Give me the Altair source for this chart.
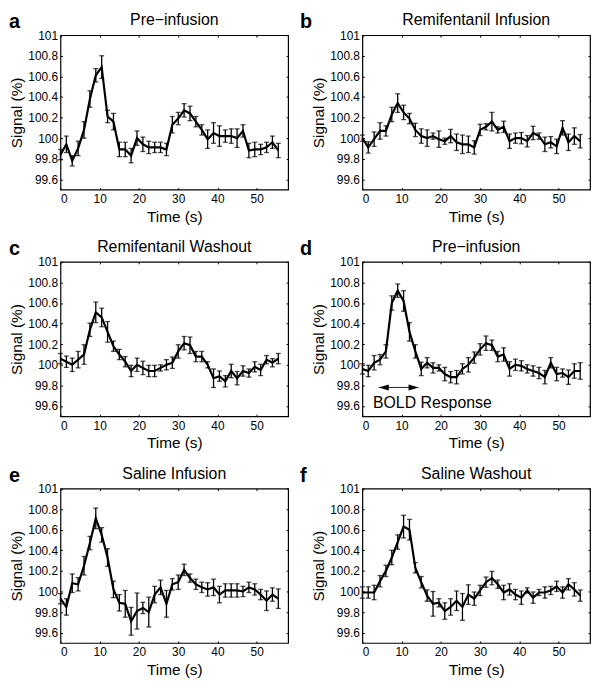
import altair as alt
import pandas as pd

FONT = "Liberation Sans"

time_s = [0, 1.5, 3, 4.5, 6, 7.5, 9, 10.5, 12, 13.5, 15, 16.5, 18, 19.5, 21, 22.5,
          24, 25.5, 27, 28.5, 30, 31.5, 33, 34.5, 36, 37.5, 39, 40.5, 42, 43.5,
          45, 46.5, 48, 49.5, 51, 52.5, 54, 55.5]

x_ticks = [0, 10, 20, 30, 40, 50]
y_ticks = [99.6, 99.8, 100, 100.2, 100.4, 100.6, 100.8, 101]
x_domain = [0, 58]
y_domain = [99.5, 101]

titles = ["Pre\u2212infusion", "Remifentanil Infusion", "Remifentanil Washout",
          "Pre\u2212infusion", "Saline Infusion", "Saline Washout"]
letters = ["a", "b", "c", "d", "e", "f"]

sig_a = [99.84, 99.94, 99.78, 99.90, 100.08, 100.38, 100.61, 100.69, 100.21, 100.16,
         99.89, 99.89, 99.83, 100.00, 99.94, 99.91, 99.91, 99.91, 99.89, 100.13,
         100.19, 100.27, 100.24, 100.16, 100.08, 99.99, 100.05, 100.02, 100.02, 100.02,
         100.00, 100.07, 99.88, 99.89, 99.89, 99.91, 99.96, 99.88]
err_a = [0.05, 0.08, 0.05, 0.07, 0.08, 0.08, 0.065, 0.11, 0.06, 0.08,
         0.07, 0.07, 0.07, 0.07, 0.07, 0.06, 0.05, 0.05, 0.06, 0.08,
         0.06, 0.065, 0.07, 0.05, 0.05, 0.09, 0.1, 0.1, 0.06, 0.07,
         0.09, 0.06, 0.07, 0.07, 0.05, 0.05, 0.06, 0.07]

sig_b = [100.00, 99.91, 99.99, 100.07, 100.07, 100.23, 100.34, 100.25, 100.19, 100.08,
         100.02, 100.00, 100.02, 99.99, 99.97, 100.02, 99.96, 99.94, 99.94, 99.91,
         100.08, 100.11, 100.16, 100.08, 100.11, 99.97, 100.00, 100.00, 99.97, 100.05,
         100.02, 99.94, 99.96, 99.92, 100.10, 99.96, 100.02, 99.97]
err_b = [0.03, 0.055, 0.07, 0.08, 0.05, 0.07, 0.09, 0.07, 0.05, 0.065,
         0.07, 0.08, 0.03, 0.08, 0.03, 0.065, 0.08, 0.09, 0.08, 0.065,
         0.055, 0.03, 0.09, 0.03, 0.055, 0.07, 0.05, 0.055, 0.055, 0.065,
         0.03, 0.07, 0.055, 0.07, 0.07, 0.08, 0.08, 0.065]

sig_c = [100.06, 100.03, 100.00, 100.05, 100.10, 100.34, 100.51, 100.46, 100.32, 100.18,
         100.10, 100.03, 99.94, 100.00, 99.97, 99.94, 99.94, 99.97, 100.00, 100.02,
         100.13, 100.21, 100.19, 100.08, 100.08, 100.00, 99.87, 99.89, 99.84, 99.94,
         99.87, 99.94, 99.92, 99.98, 99.95, 100.05, 100.02, 100.06]
err_c = [0.05, 0.055, 0.065, 0.08, 0.095, 0.065, 0.1, 0.09, 0.1, 0.05,
         0.05, 0.05, 0.055, 0.065, 0.065, 0.055, 0.055, 0.03, 0.05, 0.055,
         0.065, 0.065, 0.08, 0.05, 0.05, 0.03, 0.09, 0.05, 0.055, 0.065,
         0.065, 0.05, 0.04, 0.05, 0.055, 0.04, 0.04, 0.05]

sig_d = [99.96, 99.94, 100.02, 100.05, 100.13, 100.60, 100.72, 100.62, 100.32, 100.13,
         99.96, 100.02, 99.97, 99.97, 99.91, 99.88, 99.88, 99.96, 100.00, 100.07,
         100.15, 100.21, 100.19, 100.08, 100.10, 99.96, 100.00, 99.99, 99.96, 99.94,
         99.92, 99.88, 100.02, 99.91, 99.92, 99.88, 99.94, 99.94]
err_d = [0.05, 0.055, 0.07, 0.05, 0.065, 0.07, 0.065, 0.1, 0.09, 0.065,
         0.065, 0.05, 0.05, 0.03, 0.065, 0.055, 0.065, 0.05, 0.07, 0.055,
         0.055, 0.07, 0.05, 0.05, 0.065, 0.07, 0.055, 0.05, 0.04, 0.05,
         0.055, 0.065, 0.05, 0.065, 0.04, 0.07, 0.07, 0.08]

sig_e = [99.93, 99.85, 100.08, 100.07, 100.25, 100.47, 100.71, 100.55, 100.33, 100.02,
         99.89, 99.88, 99.71, 99.81, 99.84, 99.80, 99.97, 100.04, 99.88, 100.07,
         100.09, 100.21, 100.13, 100.07, 100.04, 100.02, 100.04, 99.97, 100.01, 100.01,
         100.01, 100.00, 100.04, 100.02, 99.97, 99.91, 99.97, 99.93]
err_e = [0.05, 0.08, 0.09, 0.065, 0.09, 0.065, 0.1, 0.07, 0.085, 0.08,
         0.08, 0.13, 0.135, 0.175, 0.055, 0.145, 0.08, 0.07, 0.13, 0.055,
         0.07, 0.055, 0.04, 0.05, 0.05, 0.065, 0.08, 0.08, 0.065, 0.065,
         0.065, 0.05, 0.05, 0.055, 0.05, 0.095, 0.065, 0.095]

sig_f = [99.99, 99.99, 99.99, 100.10, 100.20, 100.33, 100.48, 100.63, 100.60, 100.23,
         100.09, 99.96, 99.88, 99.89, 99.81, 99.85, 99.91, 99.85, 99.97, 99.93,
         100.01, 100.09, 100.13, 100.07, 99.99, 100.02, 99.97, 99.94, 100.01, 99.94,
         99.99, 99.99, 100.01, 100.05, 99.99, 100.07, 100.02, 99.96]
err_f = [0.055, 0.055, 0.07, 0.055, 0.055, 0.07, 0.07, 0.11, 0.1, 0.05,
         0.055, 0.055, 0.12, 0.04, 0.08, 0.08, 0.095, 0.13, 0.095, 0.065,
         0.05, 0.05, 0.065, 0.04, 0.07, 0.055, 0.05, 0.065, 0.025, 0.055,
         0.03, 0.055, 0.04, 0.05, 0.055, 0.055, 0.065, 0.055]

# annotation in panel d
arrow_t = [4.2, 14.3]
arrow_y = 99.78
annot_text = "BOLD Response"
annot_t = 2.7
annot_y = 99.585

W, H = 230, 156

xs = alt.Scale(domain=x_domain, nice=False, zero=False)
ys = alt.Scale(domain=y_domain, nice=False, zero=False)

ax_bottom = alt.Axis(orient="bottom", values=x_ticks, format="d", offset=-2, tickSize=2,
                     tickWidth=1, domain=False, grid=False, labelPadding=4,
                     title="Time (s)", titlePadding=5)
ax_top = alt.Axis(orient="top", values=x_ticks, offset=-2, tickSize=2, tickWidth=1,
                  domain=False, grid=False, labels=False, title=None)
ax_left = alt.Axis(orient="left", values=y_ticks, format=".1~f", offset=-2, tickSize=2,
                   tickWidth=1, domain=False, grid=False, labelPadding=3,
                   title="Signal (%)", titlePadding=3)
ax_right = alt.Axis(orient="right", values=y_ticks, offset=-2, tickSize=2, tickWidth=1,
                    domain=False, grid=False, labels=False, title=None)


def make_panel(sig, err, title, letter, letter_dx, annotate=False):
    df = pd.DataFrame({
        "t": time_s,
        "sig": sig,
        "lo": [s - e for s, e in zip(sig, err)],
        "hi": [s + e for s, e in zip(sig, err)],
    })
    base = alt.Chart(df)
    line = base.mark_line(color="black", strokeWidth=2.2).encode(
        x=alt.X("t:Q", scale=xs, axis=ax_bottom),
        y=alt.Y("sig:Q", scale=ys, axis=ax_left),
    )
    bars = base.mark_rule(color="black", strokeWidth=1.3).encode(
        x=alt.X("t:Q", scale=xs, axis=ax_top),
        y=alt.Y("lo:Q", scale=ys, axis=ax_right),
        y2="hi:Q",
    )
    cap_lo = base.mark_tick(color="black", orient="horizontal", size=5, thickness=1.3).encode(
        x=alt.X("t:Q", scale=xs, axis=None),
        y=alt.Y("lo:Q", scale=ys, axis=None),
    )
    cap_hi = base.mark_tick(color="black", orient="horizontal", size=5, thickness=1.3).encode(
        x=alt.X("t:Q", scale=xs, axis=None),
        y=alt.Y("hi:Q", scale=ys, axis=None),
    )
    lab = alt.Chart(pd.DataFrame({"letter": [letter]})).mark_text(
        font=FONT, fontSize=20, fontWeight="bold", align="left", baseline="alphabetic",
        color="black",
    ).encode(text="letter:N", x=alt.value(letter_dx), y=alt.value(-7))
    ttl = alt.Chart(pd.DataFrame({"title": [title]})).mark_text(
        font=FONT, fontSize=16, align="center", baseline="alphabetic", color="black",
    ).encode(text="title:N", x=alt.value(W / 2), y=alt.value(-10))
    layers = [line, bars, cap_lo, cap_hi, lab, ttl]
    if annotate:
        arr = pd.DataFrame({"t": [arrow_t[0]], "t2": [arrow_t[1]], "y": [arrow_y]})
        arrow_line = alt.Chart(arr).mark_rule(color="#222222", strokeWidth=1).encode(
            x=alt.X("t:Q", scale=xs, axis=None), x2="t2:Q",
            y=alt.Y("y:Q", scale=ys, axis=None),
        )
        heads = pd.DataFrame({"t": arrow_t, "y": [arrow_y, arrow_y], "dir": ["left", "right"]})
        arrow_heads = alt.Chart(heads).mark_point(filled=True, color="black", opacity=1,
                                                  size=400, strokeWidth=0).encode(
            x=alt.X("t:Q", scale=xs, axis=None),
            y=alt.Y("y:Q", scale=ys, axis=None),
            shape=alt.Shape("dir:N", scale=alt.Scale(
                domain=["left", "right"],
                range=["M0,0L1,-0.3L1,0.3Z", "M0,0L-1,-0.3L-1,0.3Z"]), legend=None),
        )
        txt = alt.Chart(pd.DataFrame({"t": [annot_t], "y": [annot_y], "label": [annot_text]})).mark_text(
            font=FONT, fontSize=16, align="left", baseline="alphabetic", color="black",
        ).encode(
            x=alt.X("t:Q", scale=xs, axis=None),
            y=alt.Y("y:Q", scale=ys, axis=None),
            text="label:N",
        )
        layers += [arrow_line, arrow_heads, txt]
    return alt.layer(*layers).resolve_axis(x="independent", y="independent").properties(
        width=W, height=H,
    )


sigs = [sig_a, sig_b, sig_c, sig_d, sig_e, sig_f]
errs = [err_a, err_b, err_c, err_d, err_e, err_f]
panels = []
for i in range(6):
    dx = -52 if i % 2 == 0 else -63
    panels.append(make_panel(sigs[i], errs[i], titles[i], letters[i], dx, annotate=(i == 3)))

chart = alt.concat(*panels, columns=2, spacing={"row": 73, "column": 75}, bounds="flush").properties(
    padding=0
).configure_view(
    stroke="black", strokeWidth=1.2
).configure_axis(
    labelFont=FONT, titleFont=FONT, labelFontSize=12, titleFontSize=15.5,
    labelColor="black", titleColor="black", tickColor="black", titleFontWeight="normal",
)

chart.save("out.html", embed_options={"renderer": "svg", "actions": False})
